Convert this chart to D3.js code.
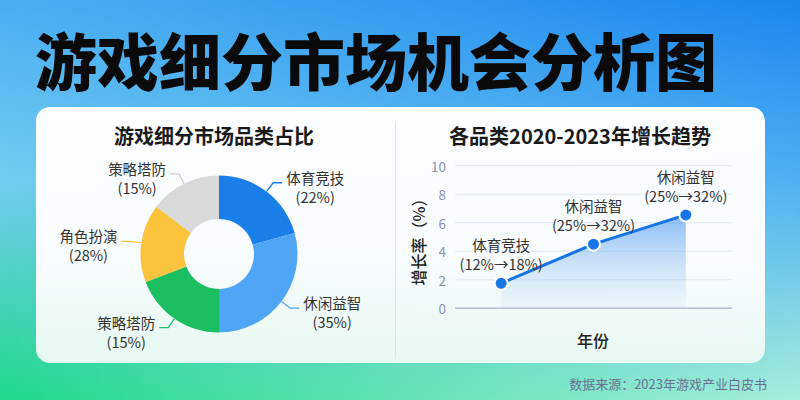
<!DOCTYPE html>
<html><head><meta charset="utf-8">
<script src="https://cdn.jsdelivr.net/npm/d3@7/dist/d3.min.js"></script>
<style>
html,body{margin:0;padding:0;width:800px;height:400px;overflow:hidden;}
svg{display:block;font-family:"Noto Sans CJK SC","Noto Sans",sans-serif;}
</style></head>
<body><svg id="c" width="800" height="400"></svg>
<script>
// ---- data ----
const mainTitle = "游戏细分市场机会分析图";
const pieTitle = "游戏细分市场品类占比";
const trendTitle = "各品类2020-2023年增长趋势";
const sourceText = "数据来源：2023年游戏产业白皮书";

const sliceNames = ["体育竞技", "休闲益智", "策略塔防", "角色扮演", "策略塔防"];
const slicePercentLabels = ["(22%)", "(35%)", "(15%)", "(28%)", "(15%)"];
const sliceValues = [20.7, 29.3, 19.2, 16.1, 14.7];
const sliceColors = ["#1a7fe9", "#4fa6f6", "#1bbf62", "#fcc33c", "#d9d9d9"];

const trendNames = ["体育竞技", "休闲益智", "休闲益智"];
const trendRanges = ["(12%→18%)", "(25%→32%)", "(25%→32%)"];
const trendValues = [1.75, 4.5, 6.55];
const yTicks = [0, 2, 4, 6, 8, 10];
const yAxisTitle = "增长率（%）";
const xAxisTitle = "年份";

// ---- drawing ----
const svg = d3.select("#c");
const defs = svg.append("defs");

// background: bilinear blend of two vertical gradients
const gL = defs.append("linearGradient").attr("id","gL").attr("x1",0).attr("y1",0).attr("x2",0).attr("y2",1);
gL.append("stop").attr("offset","0%").attr("stop-color","#4aaef2");
gL.append("stop").attr("offset","45%").attr("stop-color","#72cdf0");
gL.append("stop").attr("offset","100%").attr("stop-color","#1fd98a");
const gR = defs.append("linearGradient").attr("id","gR").attr("x1",0).attr("y1",0).attr("x2",0).attr("y2",1);
gR.append("stop").attr("offset","0%").attr("stop-color","#1a86ee");
gR.append("stop").attr("offset","45%").attr("stop-color","#4fb0f2");
gR.append("stop").attr("offset","100%").attr("stop-color","#a6eedc");
const mg = defs.append("linearGradient").attr("id","mg").attr("x1",0).attr("y1",0).attr("x2",1).attr("y2",0);
mg.append("stop").attr("offset","0%").attr("stop-color","#fff").attr("stop-opacity",0);
mg.append("stop").attr("offset","100%").attr("stop-color","#fff").attr("stop-opacity",1);
defs.append("mask").attr("id","mk").append("rect").attr("width",800).attr("height",400).attr("fill","url(#mg)");
svg.append("rect").attr("width",800).attr("height",400).attr("fill","url(#gL)");
svg.append("rect").attr("width",800).attr("height",400).attr("fill","url(#gR)").attr("mask","url(#mk)");

// main title
svg.append("text").attr("x",35).attr("y",59).attr("dominant-baseline","central")
  .attr("font-size",62).attr("font-weight",900).attr("fill","#0a0a0a").text(mainTitle);

// card
const cg = defs.append("linearGradient").attr("id","cg").attr("x1",0).attr("y1",0).attr("x2",0).attr("y2",1);
cg.append("stop").attr("offset","0%").attr("stop-color","#ffffff").attr("stop-opacity",0.98);
cg.append("stop").attr("offset","60%").attr("stop-color","#fdfefe").attr("stop-opacity",0.97);
cg.append("stop").attr("offset","100%").attr("stop-color","#eefaf5").attr("stop-opacity",0.95);
svg.append("rect").attr("x",36).attr("y",107).attr("width",729).attr("height",256).attr("rx",14).attr("fill","url(#cg)");
svg.append("line").attr("x1",395.5).attr("x2",395.5).attr("y1",122).attr("y2",358).attr("stroke","#dfe3ec").attr("stroke-width",1);

// panel titles
svg.append("text").attr("x",214).attr("y",135).attr("text-anchor","middle").attr("dominant-baseline","central")
  .attr("font-size",20).attr("font-weight",700).attr("fill","#1a1a1a").text(pieTitle);
svg.append("text").attr("x",580).attr("y",135).attr("text-anchor","middle").attr("dominant-baseline","central")
  .attr("font-size",20).attr("font-weight",700).attr("fill","#1a1a1a").text(trendTitle);

// two-line label helper (single text element)
function twoLine(g, x, yFirst, gap, a, b) {
  const t = g.append("text").attr("text-anchor","middle").attr("font-size",14.5).attr("fill","#333");
  t.append("tspan").attr("x",x).attr("y",yFirst).attr("dominant-baseline","central").text(a);
  t.append("tspan").attr("x",x).attr("y",yFirst+gap).attr("dominant-baseline","central").text(b);
  return t;
}

// ---- donut ----
const cx = 219, cy = 254, R = 78.5, r0 = 35;
const pie = d3.pie().sort(null).value(d => d)(sliceValues);
const arc = d3.arc().innerRadius(r0).outerRadius(R);
const pg = svg.append("g").attr("transform",`translate(${cx},${cy})`);
pg.selectAll("path.s").data(pie).join("path").attr("class","s")
  .attr("d",arc).attr("fill",(d,i)=>sliceColors[i]);

const len1 = 11, len2 = 9;
pie.forEach((d,i) => {
  const a = (d.startAngle + d.endAngle)/2;
  const sx = Math.sin(a), sy = -Math.cos(a);
  const p1 = [sx*R, sy*R], p2 = [sx*(R+len1), sy*(R+len1)];
  const dir = sx >= 0 ? 1 : -1;
  const p3 = [p2[0] + dir*len2, p2[1]];
  pg.append("polyline").attr("points",[p1,p2,p3].map(p=>p.join(",")).join(" "))
    .attr("fill","none").attr("stroke", i===4 ? "#c9ccd6" : sliceColors[i]).attr("stroke-width",1.3);
  const t = twoLine(pg, 0, p3[1]-5.5, 19, sliceNames[i], slicePercentLabels[i]);
  const w = t.node().getBBox().width;
  const xc = p3[0] + dir*(4 + w/2);
  t.selectAll("tspan").attr("x",xc);
});

// ---- trend chart ----
const x0 = 455, x1 = 732, yb = 308.3, yt = 165.7;
const xs = d3.scalePoint().domain(d3.range(trendValues.length)).range([x0,x1]).padding(0.5);
const ys = d3.scaleLinear().domain([0,10]).range([yb,yt]);

const tg = svg.append("g");
tg.selectAll("line.g").data(yTicks).join("line").attr("class","g")
  .attr("x1",x0).attr("x2",x1).attr("y1",d=>ys(d)).attr("y2",d=>ys(d))
  .attr("stroke",d=>d===0?"#b7bdd0":"#e1e6f0").attr("stroke-width",d=>d===0?1.5:1);
tg.selectAll("text.t").data(yTicks).join("text").attr("class","t")
  .attr("x",446).attr("y",d=>ys(d)).attr("text-anchor","end").attr("dominant-baseline","central")
  .attr("font-size",13.5).attr("fill","#8a90b2").text(d=>d);

// area gradient
const ag = defs.append("linearGradient").attr("id","ag").attr("gradientUnits","userSpaceOnUse")
  .attr("x1",0).attr("x2",0).attr("y1",ys(d3.max(trendValues))).attr("y2",yb);
ag.append("stop").attr("offset","0%").attr("stop-color","#3f8ef0").attr("stop-opacity",0.6);
ag.append("stop").attr("offset","100%").attr("stop-color","#9cc8f8").attr("stop-opacity",0.08);

const area = d3.area().x((d,i)=>xs(i)).y0(ys(0)).y1(d=>ys(d));
const line = d3.line().x((d,i)=>xs(i)).y(d=>ys(d));
tg.append("path").attr("d",area(trendValues)).attr("fill","url(#ag)");
tg.append("path").attr("d",line(trendValues)).attr("fill","none").attr("stroke","#1473e6").attr("stroke-width",3);
tg.selectAll("circle").data(trendValues).join("circle")
  .attr("cx",(d,i)=>xs(i)).attr("cy",d=>ys(d)).attr("r",6.5)
  .attr("fill","#1877e8").attr("stroke","#fff").attr("stroke-width",2);
trendValues.forEach((v,i)=>{
  twoLine(tg, xs(i), ys(v)-38.5, 19, trendNames[i], trendRanges[i]);
});

// axis titles
svg.append("text").attr("transform","translate(418,238) rotate(-90)").attr("text-anchor","middle")
  .attr("dominant-baseline","central").attr("font-size",16).attr("font-weight",500).attr("fill","#222").text(yAxisTitle);
svg.append("text").attr("x",593).attr("y",340).attr("text-anchor","middle").attr("dominant-baseline","central")
  .attr("font-size",16).attr("font-weight",500).attr("fill","#222").text(xAxisTitle);

// source
svg.append("text").attr("x",767).attr("y",383).attr("text-anchor","end").attr("dominant-baseline","central")
  .attr("font-size",13).attr("fill","#6a7191").text(sourceText);
</script>
</body></html>
